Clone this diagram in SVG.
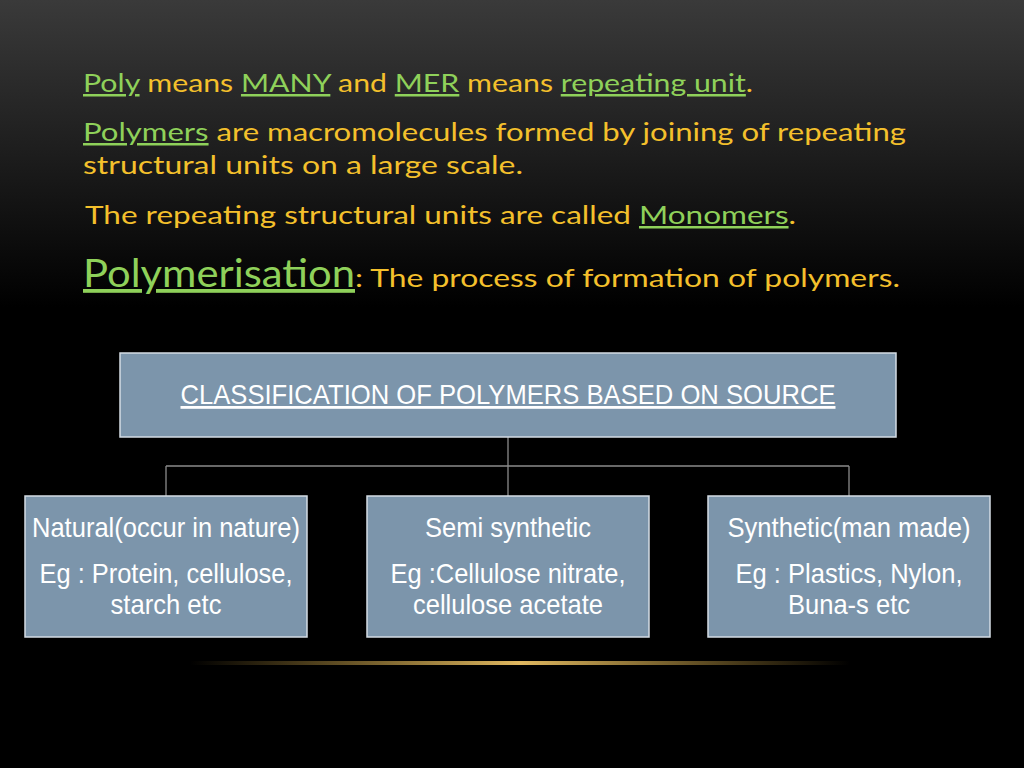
<svg xmlns="http://www.w3.org/2000/svg" width="1024" height="768" viewBox="0 0 1024 768">
<defs>
<linearGradient id="bg" x1="0" y1="0" x2="0" y2="1"><stop offset="0" stop-color="#3a3a3a"/><stop offset="0.4" stop-color="#000"/><stop offset="1" stop-color="#000"/></linearGradient>
<linearGradient id="glow" x1="0" y1="0" x2="1" y2="0"><stop offset="0" stop-color="#c9a040" stop-opacity="0"/><stop offset="0.5" stop-color="#e0b860"/><stop offset="1" stop-color="#c9a040" stop-opacity="0"/></linearGradient>
<style>
.t{font-family:Lato,"Noto Sans",sans-serif;font-size:25px;fill:#f4c02c}
.g{fill:#8fd15a;text-decoration:underline}
.box{fill:#7c95ab;stroke:#d5dde5;stroke-width:1.5}
.bt{font-family:"Liberation Sans",Arial,sans-serif;font-size:28px;fill:#fff;text-anchor:middle}
.c{stroke:#8a8a8a;stroke-width:1.3;fill:none}
</style>
</defs>
<rect width="1024" height="768" fill="url(#bg)"/>
<rect x="190" y="661" width="660" height="4" fill="url(#glow)"/>
<g id="text">
<text class="t" x="83" y="92" textLength="670" lengthAdjust="spacingAndGlyphs"><tspan class="g">Poly</tspan> means <tspan class="g">MANY</tspan> and <tspan class="g">MER</tspan> means <tspan class="g">repeating unit</tspan>.</text>
<text class="t" x="83" y="141" textLength="823" lengthAdjust="spacingAndGlyphs"><tspan class="g">Polymers</tspan> are macromolecules formed by joining of repeating</text>
<text class="t" x="83" y="174" textLength="440" lengthAdjust="spacingAndGlyphs">structural units on a large scale.</text>
<text class="t" x="85" y="224" textLength="711" lengthAdjust="spacingAndGlyphs">The repeating structural units are called <tspan class="g">Monomers</tspan>.</text>
<text class="t" x="83" y="287"><tspan class="g" style="font-size:38px" textLength="272" lengthAdjust="spacingAndGlyphs">Polymerisation</tspan><tspan textLength="545" lengthAdjust="spacingAndGlyphs">: The process of formation of polymers.</tspan></text>
</g>
<g id="connectors">
<path class="c" d="M508 437V466M166 466H849M166 466V496M508 466V496M849 466V496"/>
</g>
<g id="root"><rect class="box" x="120" y="353" width="776" height="84"/>
<text class="bt" x="508" y="404" textLength="655" lengthAdjust="spacingAndGlyphs" style="text-decoration:underline">CLASSIFICATION OF POLYMERS BASED ON SOURCE</text></g>
<g id="natural"><rect class="box" x="25" y="496" width="282" height="141"/>
<text class="bt" x="166" y="537" textLength="268" lengthAdjust="spacingAndGlyphs">Natural(occur in nature)</text>
<text class="bt" x="166" y="583" textLength="253" lengthAdjust="spacingAndGlyphs">Eg : Protein, cellulose,</text>
<text class="bt" x="166" y="614" textLength="111" lengthAdjust="spacingAndGlyphs">starch etc</text></g>
<g id="semi"><rect class="box" x="367" y="496" width="282" height="141"/>
<text class="bt" x="508" y="537" textLength="166" lengthAdjust="spacingAndGlyphs">Semi synthetic</text>
<text class="bt" x="508" y="583" textLength="235" lengthAdjust="spacingAndGlyphs">Eg :Cellulose nitrate,</text>
<text class="bt" x="508" y="614" textLength="190" lengthAdjust="spacingAndGlyphs">cellulose acetate</text></g>
<g id="synthetic"><rect class="box" x="708" y="496" width="282" height="141"/>
<text class="bt" x="849" y="537" textLength="243" lengthAdjust="spacingAndGlyphs">Synthetic(man made)</text>
<text class="bt" x="849" y="583" textLength="227" lengthAdjust="spacingAndGlyphs">Eg : Plastics, Nylon,</text>
<text class="bt" x="849" y="614" textLength="122" lengthAdjust="spacingAndGlyphs">Buna-s etc</text></g>
</svg>
